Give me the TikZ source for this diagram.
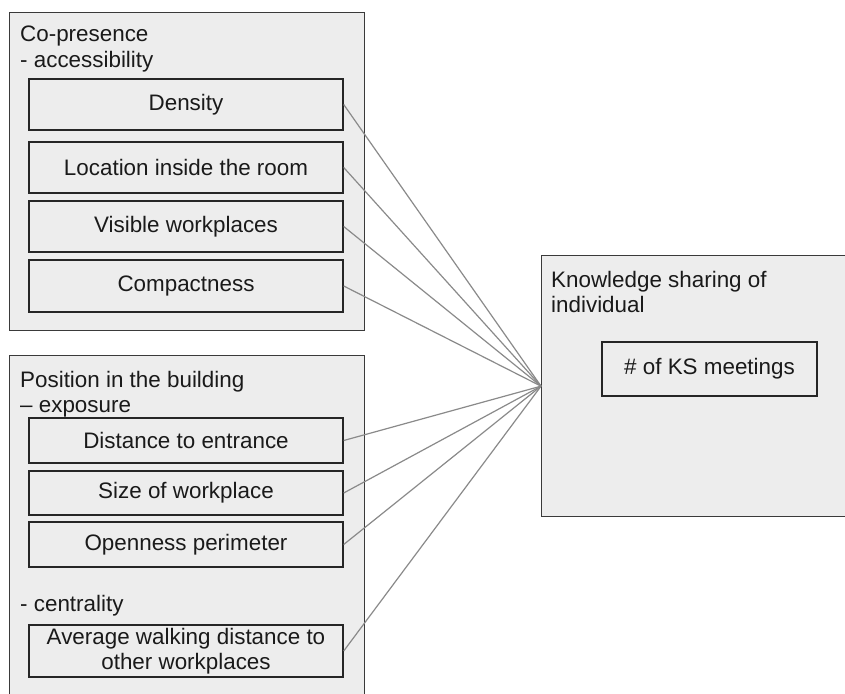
\documentclass[tikz,border=0pt]{standalone}
\usepackage{fontspec}
\setmainfont{Liberation Sans}
\definecolor{boxgray}{HTML}{EDEDED}
\definecolor{edgegray}{HTML}{3A3A3A}
\definecolor{linkgray}{HTML}{8A8A8A}
\definecolor{textgray}{HTML}{1A1A1A}
\tikzset{
    every node/.style={font=\fontsize{22.4}{25.5}\selectfont, text=textgray},
    group/.style={draw=edgegray, line width=1.3pt, fill=boxgray, anchor=north west, inner sep=0pt},
    item/.style={draw=black!85, line width=1.4pt, fill=boxgray, minimum width=314pt, inner sep=0pt, align=center},
    title/.style={anchor=north west, inner sep=0pt, align=left},
    link/.style={draw=linkgray, line width=1.2pt}
}

\begin{document}
\begin{tikzpicture}[x=1pt, y=-1pt]
        \useasboundingbox (0,0) rectangle (845,693);
        \fill[white] (0,0) rectangle (845,693); %hintergrund
        \clip (0,0) rectangle (845,693);

        % co-presence
        \node[group, minimum width=355pt, minimum height=318pt] (copres) at (9,12) {};
        \node[title] (copreslabel) at (20,26) {Co-presence\\- accessibility};
        \node[item, minimum height=51pt] (density) at (186,104.5) {Density};
        \node[item, minimum height=51pt] (location) at (186,167.5) {Location inside the room};
        \node[item, minimum height=51pt] (visible) at (186,226.5) {Visible workplaces};
        \node[item, minimum height=52pt] (compact) at (186,286) {Compactness};

        % position in the building
        \node[group, minimum width=355pt, minimum height=345pt] (position) at (9,355) {};
        \node[title] (positionlabel) at (20,371) {Position in the building\\– exposure};
        \node[item, minimum height=45pt] (entrance) at (186,440.5) {Distance to entrance};
        \node[item, minimum height=44pt] (size) at (186,493) {Size of workplace};
        \node[item, minimum height=45pt] (openness) at (186,544.5) {Openness perimeter};
        \node[title] (centralitylabel) at (20,595) {- centrality};
        \node[item, minimum height=52pt] (walking) at (186,651) {Average walking distance to\\other workplaces};

        % knowledge sharing
        \node[group, minimum width=330pt, minimum height=261pt] (ks) at (541,255) {};
        \node[title] (kslabel) at (551,271) {Knowledge sharing of\\individual};
        \node[item, minimum width=215pt, minimum height=54pt] (meetings) at (709.5,369) {\# of KS meetings};

        % verbindungen
        \foreach \src in {density,location,visible,compact,entrance,size,openness,walking}
            \draw[link] (\src.east) -- (ks.west);
\end{tikzpicture}
\end{document}
